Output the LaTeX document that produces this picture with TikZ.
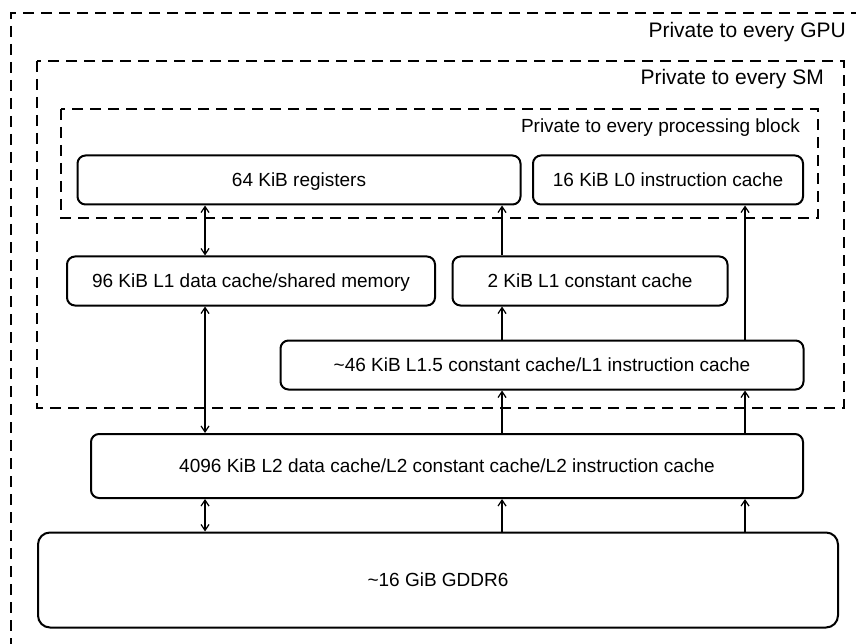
\documentclass[tikz,border=0pt]{standalone}
\usepackage{fontspec}
\setmainfont{Liberation Sans}
\usetikzlibrary{arrows.meta}
\tikzset{
  box/.style={draw=black, line width=2pt, rounded corners=8pt, fill=white,
    inner sep=0pt, anchor=center, text height=12.5pt, text depth=0pt,
    font=\fontsize{19}{22}\selectfont},
  region/.style={draw=black, line width=2.4pt, dash pattern=on 11pt off 7pt},
  rlabel/.style={anchor=east, inner sep=0pt},
  barb/.style={Straight Barb[length=6pt,width=8pt,line width=1.2pt]},
  link/.style={line width=1.3pt, -{Straight Barb[length=6pt,width=8pt,line width=1.2pt]}},
  dlink/.style={line width=1.3pt, {Straight Barb[length=6pt,width=8pt,line width=1.2pt]}-{Straight Barb[length=6pt,width=8pt,line width=1.2pt]}},
}
\begin{document}
\begin{tikzpicture}[x=1pt,y=-1pt]
\useasboundingbox (0,0) rectangle (856,644);
\clip (0,0) rectangle (856,644);
\fill[white] (0,0) rectangle (856,644);
% regions
\draw[region] (880,13) -- (11,13) -- (11,670);
\draw[region] (37,61) rectangle (844,408);
\draw[region] (61,109) rectangle (818,218);
\node[rlabel, font=\fontsize{21}{24}\selectfont] (lgpu) at (846,32) {Private to every GPU};
\node[rlabel, font=\fontsize{21}{24}\selectfont] (lsm) at (824,79) {Private to every SM};
\node[rlabel, font=\fontsize{19}{22}\selectfont] (lpb) at (800,128) {Private to every processing block};
% boxes
\node[box, minimum width=443pt, minimum height=49pt] (regs) at (299,180) {64 KiB registers};
\node[box, minimum width=270pt, minimum height=49pt] (l0) at (668,180) {16 KiB L0 instruction cache};
\node[box, minimum width=368pt, minimum height=49pt] (l1d) at (251,281) {96 KiB L1 data cache/shared memory};
\node[box, minimum width=275pt, minimum height=49pt] (l1c) at (590,281) {2 KiB L1 constant cache};
\node[box, minimum width=523pt, minimum height=49pt] (l15) at (542,365) {\textasciitilde 46 KiB L1.5 constant cache/L1 instruction cache};
\node[box, minimum width=712pt, minimum height=64pt] (l2) at (447,466) {4096 KiB L2 data cache/L2 constant cache/L2 instruction cache};
\node[box, rounded corners=12pt, minimum width=800pt, minimum height=95pt] (mem) at (438,580) {\textasciitilde 16 GiB GDDR6};
% arrow columns
\coordinate (ca) at (205,0);
\coordinate (cb) at (502,0);
\coordinate (cc) at (745,0);
% connectors
\draw[dlink] (regs.south -| ca) -- (l1d.north -| ca);
\draw[dlink] (l1d.south -| ca) -- (l2.north -| ca);
\draw[dlink] (l2.south -| ca) -- (mem.north -| ca);
\draw[link] (l1c.north -| cb) -- (regs.south -| cb);
\draw[link] (l15.north -| cb) -- (l1c.south -| cb);
\draw[link] (l2.north -| cb) -- (l15.south -| cb);
\draw[link] (mem.north -| cb) -- (l2.south -| cb);
\draw[link] (l15.north -| cc) -- (l0.south -| cc);
\draw[link] (l2.north -| cc) -- (l15.south -| cc);
\draw[link] (mem.north -| cc) -- (l2.south -| cc);
\end{tikzpicture}
\end{document}
